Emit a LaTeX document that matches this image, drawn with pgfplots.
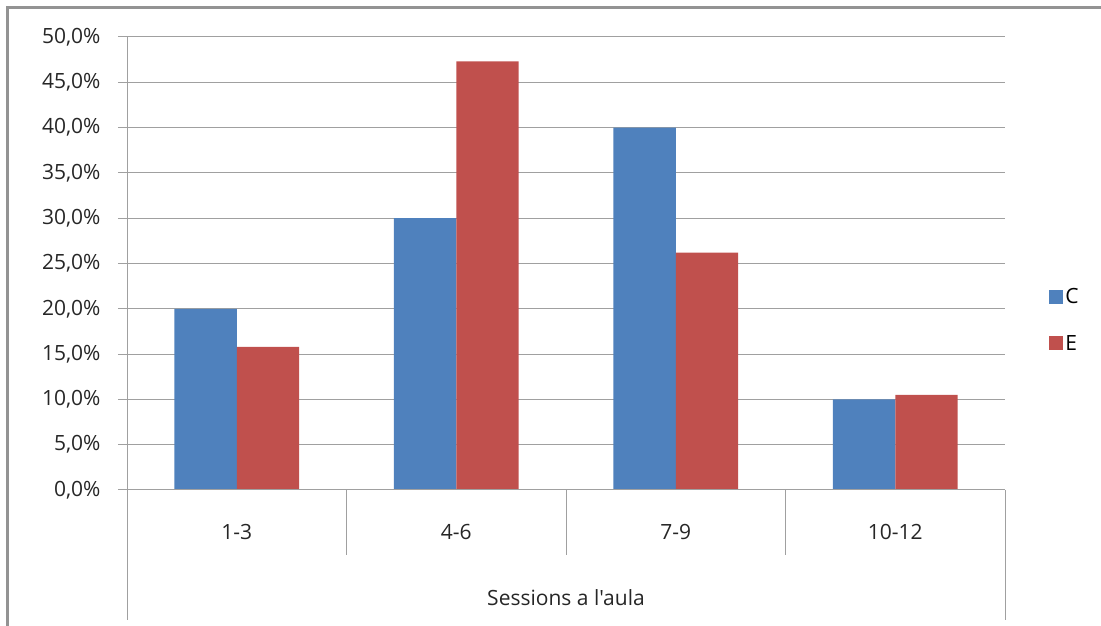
\documentclass[border=0pt]{standalone}
\usepackage{pgfplots}
\pgfplotsset{compat=1.18}
\usepackage{fontspec}
\setmainfont{Open Sans}[Ligatures=TeXOff]

\definecolor{serC}{HTML}{4F81BD}
\definecolor{serE}{HTML}{C0504D}
\definecolor{gridg}{HTML}{A0A0A0}

\begin{document}
\begin{tikzpicture}[x=1pt,y=1pt]
\useasboundingbox (0,0) rectangle (1101,626);
% frame of the chart area (cut at right and bottom)
\draw[gray!85, line width=2.5pt] (7.5,0) -- (7.5,618.5) -- (1101,618.5);

\begin{axis}[
    at={(127pt,136pt)}, anchor=south west,
    scale only axis, width=878pt, height=453pt,
    clip=false,
    ybar, bar width=0.2847,
    xmin=-0.5, xmax=3.5,
    ymin=0, ymax=50,
    axis line style={draw=none},
    ytick={0,5,...,50},
    ytick pos=left,
    yticklabels={{0,0\%},{5,0\%},{10,0\%},{15,0\%},{20,0\%},{25,0\%},{30,0\%},{35,0\%},{40,0\%},{45,0\%},{50,0\%}},
    xtick={0,1,2,3},
    xticklabels={1-3,4-6,7-9,10-12},
    x tick style={draw=none},
    y tick style={gridg, line width=1pt},
    tick align=outside, major tick length=9pt,
    ymajorgrids, grid style={gridg, line width=1pt},
    ticklabel style={font=\fontsize{21}{24}\selectfont, text=black!85},
    yticklabel style={xshift=-14pt},
    xticklabel style={yshift=-22pt},
    legend style={at={(1.047,0.375)}, anchor=west, draw=none, fill=none,
        font=\fontsize{21}{24}\selectfont, row sep=26pt,
        /tikz/every even column/.append style={column sep=5pt}},
    legend cell align=left,
]
\addplot[fill=serC, draw=none, bar shift=-0.14235,
    legend image code/.code={\fill[serC] (0pt,-7pt) rectangle (14pt,7pt);}]
    coordinates {(0,20) (1,30) (2,40) (3,10)};
\addplot[fill=serE, draw=none, bar shift=0.14235,
    legend image code/.code={\fill[serE] (0pt,-7pt) rectangle (14pt,7pt);}]
    coordinates {(0,15.8) (1,47.3) (2,26.2) (3,10.5)};
\legend{C,E}

% axis lines and category separators
\draw[gridg, line width=1pt] (axis cs:-0.5,50) -- ([yshift=-130pt]axis cs:-0.5,0);
\draw[gridg, line width=1pt] (axis cs:-0.5,0) -- (axis cs:3.5,0);
\draw[gridg, line width=1pt] (axis cs:3.5,0) -- ([yshift=-130pt]axis cs:3.5,0);
\draw[gridg, line width=1pt] (axis cs:0.5,0) -- ([yshift=-65pt]axis cs:0.5,0);
\draw[gridg, line width=1pt] (axis cs:1.5,0) -- ([yshift=-65pt]axis cs:1.5,0);
\draw[gridg, line width=1pt] (axis cs:2.5,0) -- ([yshift=-65pt]axis cs:2.5,0);
\node[font=\fontsize{21}{24}\selectfont, text=black!85] at ([yshift=-108pt]axis cs:1.5,0) {Sessions a l'aula};
\end{axis}
\end{tikzpicture}
\end{document}
